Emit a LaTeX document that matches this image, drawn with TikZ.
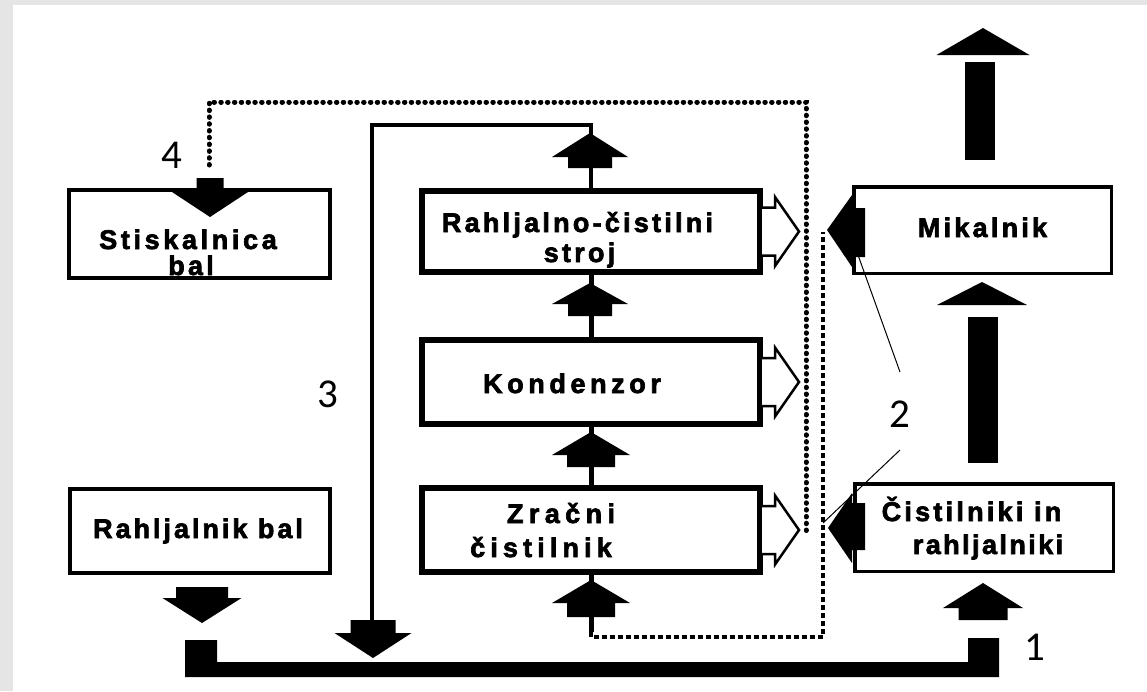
\documentclass[tikz,border=0pt]{standalone}
\usepackage{fontspec}
\newfontfamily\labfont[LetterSpace=12, FakeBold=2.5]{Liberation Sans Bold}
\newfontfamily\numfont{Carlito}
\usetikzlibrary{calc}
\tikzset{
  pics/uparr/.style n args={4}{code={
    \fill (0,0) -- (#1,#2) -- (#3,#2) -- (#3,#2+#4) -- (-#3,#2+#4) -- (-#3,#2) -- (-#1,#2) -- cycle;}},
  pics/tri/.style n args={2}{code={\fill (0,0) -- (#1,#2) -- (-#1,#2) -- cycle;}}
}
\newcommand\myopenarr[1]{%
  \draw[openarr] ($(#1.east)+(-1,-24)$) -- ++(13,0) -- ++(0,-10.5) -- ++(24,34.5)
     -- ++(-24,34.5) -- ++(0,-10.5) -- ++(-13,0);}
\newcommand\lsp[1]{\addfontfeatures{LetterSpace=#1}}
\begin{document}
\begin{tikzpicture}[x=1pt,y=-1pt,
  box/.style={draw, fill=white, inner sep=0pt},
  boxL/.style={box, line width=4pt},
  boxM/.style={box, line width=6pt},
  boxR/.style={box, line width=3.5pt},
  txt/.style={font=\labfont\fontsize{27}{32}\selectfont, inner sep=0pt, anchor=base},
  num/.style={font=\numfont\fontsize{41}{44}\selectfont, inner sep=0pt, anchor=base},
  stem/.style={line width=5pt},
  line3/.style={line width=4pt},
  dots/.style={line width=5pt, line cap=round, dash pattern=on 0.5pt off 6.3pt},
  dashline/.style={line width=4pt, dash pattern=on 5pt off 3pt},
  thinline/.style={line width=1pt},
  bigstem/.style={line width=30pt},
  openarr/.style={line width=2.5pt, fill=white, line join=miter},
  ]
\useasboundingbox (0,0) rectangle (1147,691);
\fill[black!10] (0,0) rectangle (1147,691);
\fill[white] (13,5) rectangle (1147,691);

% boxes
\node[boxL, minimum width=261, minimum height=88] (stisk) at (199.5,234) {};
\node[boxL, minimum width=260, minimum height=84] (rahlbal) at (200,531) {};
\node[boxM, minimum width=338, minimum height=81] (rcs) at (591,231.5) {};
\node[boxM, minimum width=338, minimum height=84] (kond) at (591,382) {};
\node[boxM, minimum width=338, minimum height=84] (zrac) at (591,530) {};
\node[boxR, minimum width=257.5, minimum height=86.5] (mik) at (982.5,230) {};
\node[boxR, minimum width=258.5, minimum height=87.5] (cist) at (984,527.5) {};

% texts
\node[txt] (t1) at (188,249) {\lsp{13.5}Stiskalnica};
\node[txt] (t2) at (191,275) {bal};
\node[txt] (t3) at (198,538) {\lsp{11}Rahljalnik bal};
\node[txt] (t4) at (577.5,232) {Rahljalno-čistilni};
\node[txt] (t5) at (579.5,262) {stroj};
\node[txt] (t6) at (572,393) {\lsp{17}Kondenzor};
\node[txt] (t7) at (561,523) {\lsp{20}Zračni};
\node[txt] (t8) at (541,557) {\lsp{19}čistilnik};
\node[txt] (t9) at (982.5,237) {Mikalnik};
\node[txt] (t10) at (971.5,521) {Čistilniki in};
\node[txt] (t11) at (988,554) {\lsp{9}rahljalniki};

% number labels
\node[num] (n4) at (172,168) {4};
\node[num] (n3) at (328,407) {3};
\node[num] (n2) at (900,427) {2};
\node[num] (n1) at (1035,660) {1};

% middle column flow
\draw[stem] (kond.north) -- (rcs.south);
\pic at (590,283) {uparr={38}{21}{22}{12}};
\draw[stem] (zrac.north) -- (kond.south);
\pic at (591,432) {uparr={39}{23}{24}{12}};
\coordinate (d0) at (591,632);
\draw[stem] (zrac.south) -- (d0);
\pic at (591,580) {uparr={39}{23}{24}{14}};

% line 3
\coordinate (c3) at (372,125);
\coordinate (e3) at (372,622);
\draw[line3] (rcs.north) |- (c3) -- (e3);
\pic at (590,133) {uparr={38}{24}{22}{11}};
\pic[rotate=180] at (373,658) {uparr={38.5}{25}{22.5}{13}};

% open arrows
\myopenarr{rcs}
\myopenarr{kond}
\myopenarr{zrac}

% dotted line 4
\coordinate (p4a) at (209,165);
\coordinate (p4b) at (806,102);
\coordinate (p4c) at (806,535);
\draw[dots] (p4a) |- (p4b) -- (p4c);
\pic[rotate=180] at (210,217) {uparr={38}{25}{13.5}{14}};

% dashed return line
\coordinate (mtip) at (823,232);
\draw[dashline] (d0) -- (591,637) -| (mtip);

% filled left arrows at right boxes
\fill (827,230) -- (852,195) -- (852,208) -- (865,208) -- (865,257) -- (852,257) -- (852,267) -- cycle;
\fill (828,528) -- (852,493) -- (852,503) -- (865,503) -- (865,550) -- (852,550) -- (852,563) -- cycle;

% label 2 leaders
\coordinate (l2a) at (900,372);
\coordinate (l2b) at (900,450);
\draw[thinline] (858,255) -- (l2a);
\draw[thinline] (l2b) -- (823,523);

% right column
\draw[bigstem] ($(mik.north)+(-2.5,-25)$) -- ++(0,-98);
\pic at (983,28) {tri={46.5}{27}};
\draw[bigstem] ($(cist.north)+(-1,-19)$) -- ++(0,-146);
\pic at (982,282) {tri={45}{23}};
\pic at (983,583) {uparr={40}{25}{24.5}{12}};

% left down arrow
\pic[rotate=180] at (202,623) {uparr={39.5}{25}{26}{11}};

% bottom thick line
\coordinate (b1) at (185,640);
\coordinate (b2) at (999,677);
\fill (b1) -- (217,640) -- (217,662) -- (968,662) -- (968,638) -- (999,638) -- (b2) -- (185,677) -- cycle;
\end{tikzpicture}
\end{document}
